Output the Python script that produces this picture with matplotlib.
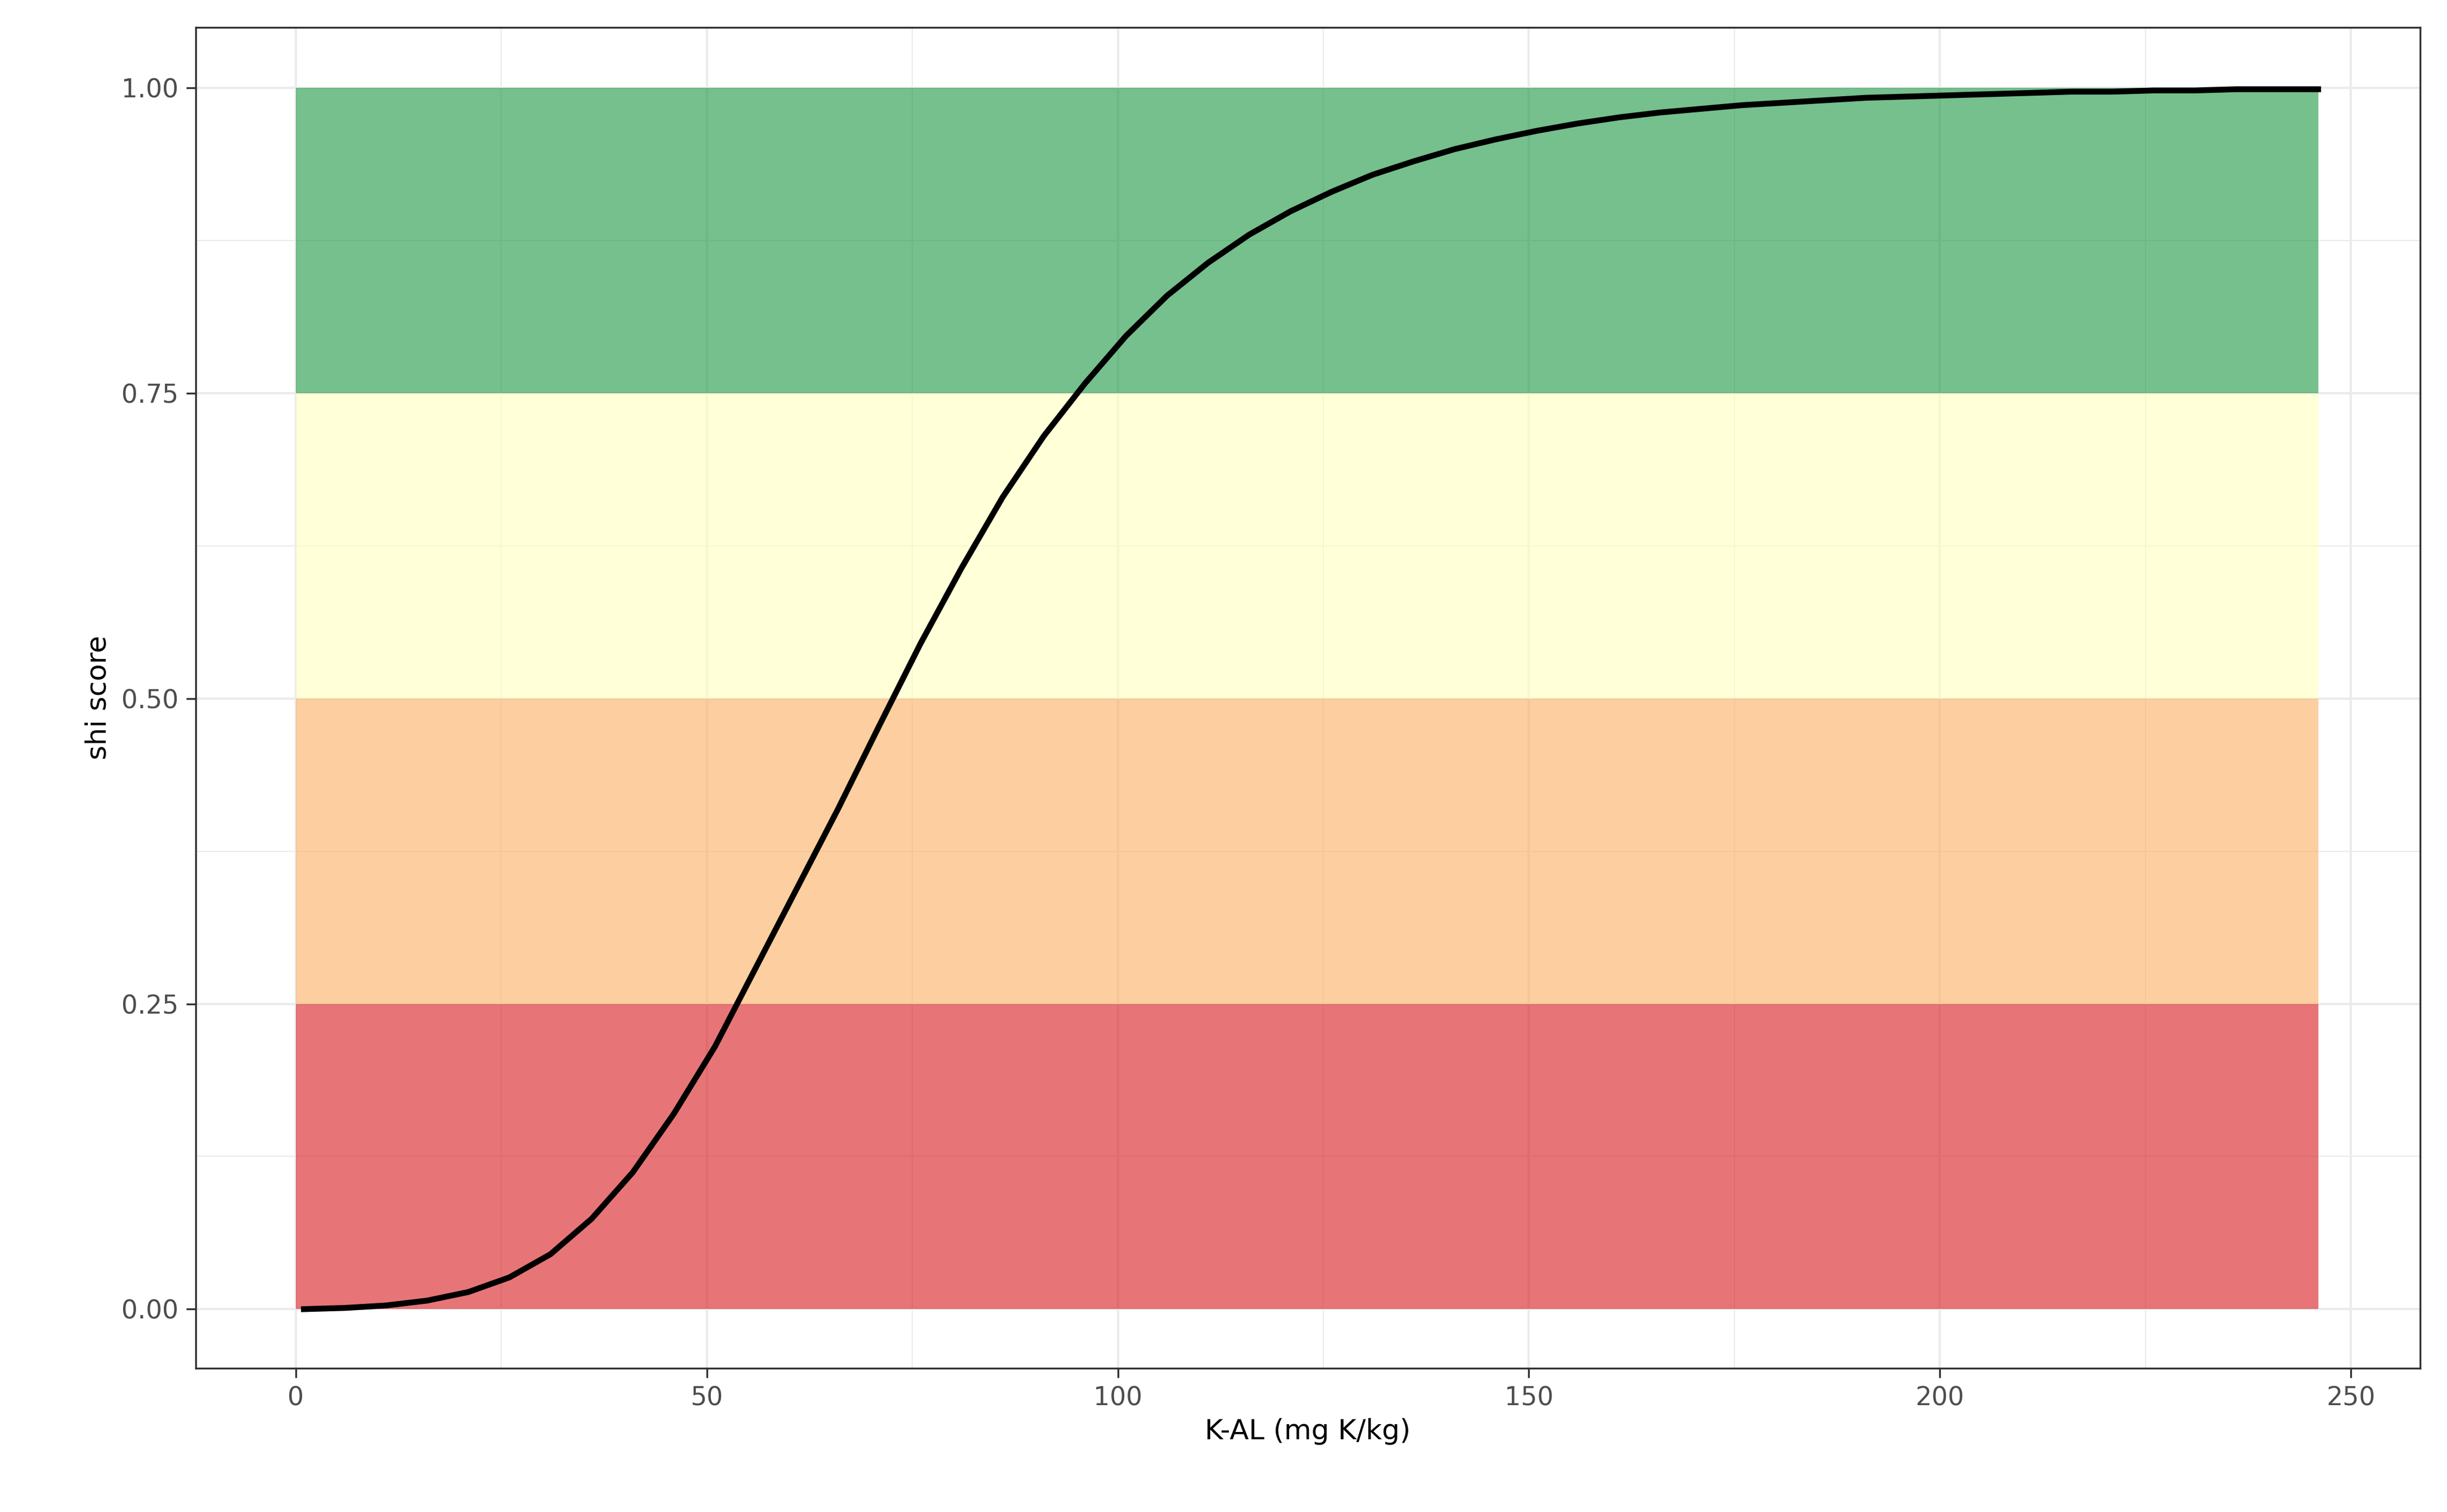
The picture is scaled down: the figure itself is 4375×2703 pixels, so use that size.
import matplotlib
matplotlib.use("Agg")
import matplotlib.pyplot as plt

x_vals = list(range(1, 247, 5))
y_vals = [0.0, 0.001, 0.003, 0.007, 0.014, 0.026, 0.045, 0.074, 0.112, 0.16, 0.215, 0.28,
          0.345, 0.41, 0.478, 0.545, 0.607, 0.665, 0.715, 0.758, 0.797, 0.83, 0.857, 0.88,
          0.899, 0.915, 0.929, 0.94, 0.95, 0.958, 0.965, 0.971, 0.976, 0.98, 0.983, 0.986,
          0.988, 0.99, 0.992, 0.993, 0.994, 0.995, 0.996, 0.997, 0.997, 0.998, 0.998, 0.999,
          0.999, 0.999]
band_lo = [0.0, 0.25, 0.5, 0.75]
band_hi = [0.25, 0.5, 0.75, 1.0]
band_colors = ["#d7191c", "#fdae61", "#ffffbf", "#1a9641"]
band_x = [0, 246]

fig = plt.figure(figsize=(4375/300, 2703/300), dpi=300)
ax = fig.add_axes([0.080, 0.095, 0.909, 0.887])
for lo, hi, c in zip(band_lo, band_hi, band_colors):
    ax.fill_between(band_x, lo, hi, color=c, alpha=0.6, linewidth=0, zorder=2)
ax.plot(x_vals, y_vals, color="black", linewidth=2.5, zorder=3)
ax.set_xlim(-12.15, 258.4)
ax.set_ylim(-0.0485, 1.0498)
ax.set_xticks([0, 50, 100, 150, 200, 250])
ax.set_xticks([25, 75, 125, 175, 225], minor=True)
ax.set_yticks([0, 0.25, 0.5, 0.75, 1.0])
ax.set_yticklabels(["0.00", "0.25", "0.50", "0.75", "1.00"])
ax.set_yticks([0.125, 0.375, 0.625, 0.875], minor=True)
ax.grid(which="major", color="#ebebeb", linewidth=1.0, zorder=0)
ax.grid(which="minor", color="#ebebeb", linewidth=0.5, zorder=0)
ax.set_axisbelow(True)
ax.tick_params(which="minor", length=0)
ax.tick_params(which="major", length=4, color="#333333", labelsize=11, labelcolor="#4d4d4d")
for s in ax.spines.values():
    s.set_color("#333333"); s.set_linewidth(0.8)
ax.set_xlabel("K-AL (mg K/kg)", fontsize=12, labelpad=3)
ax.set_ylabel("shi score", fontsize=12)
fig.savefig("out.png", dpi=300)
